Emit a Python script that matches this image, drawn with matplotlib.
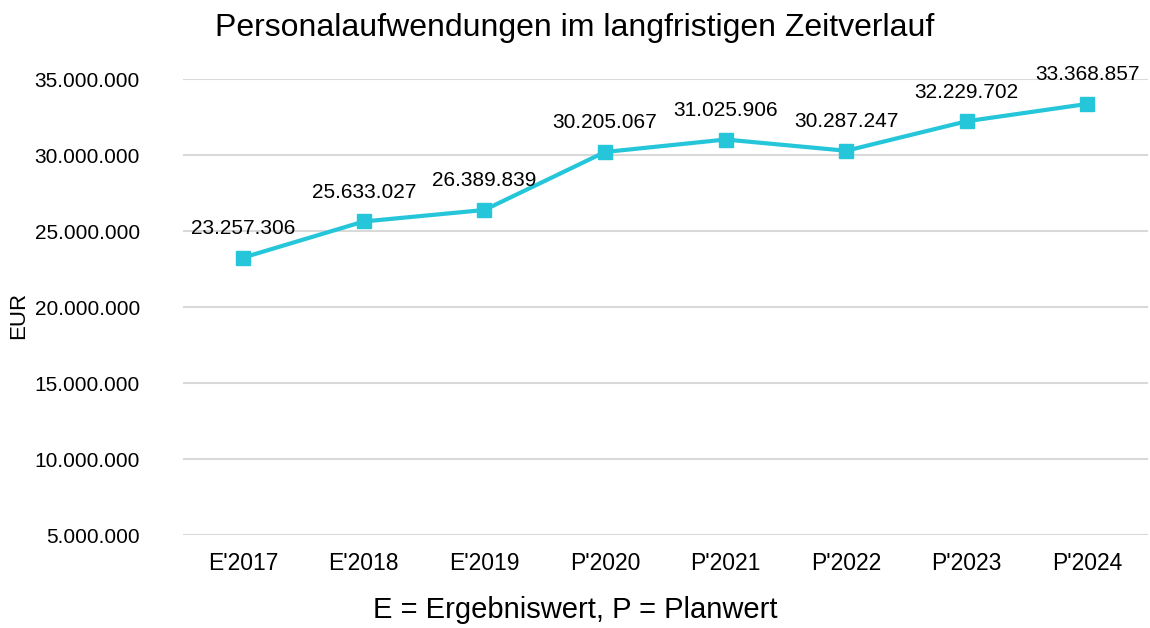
import matplotlib.pyplot as plt
from matplotlib.ticker import FuncFormatter

plt.rcParams['font.family'] = ['Liberation Sans', 'DejaVu Sans']

jahre = ["E'2017", "E'2018", "E'2019", "P'2020", "P'2021", "P'2022", "P'2023", "P'2024"]
werte = [23257306, 25633027, 26389839, 30205067, 31025906, 30287247, 32229702, 33368857]
y_ticks = [5000000, 10000000, 15000000, 20000000, 25000000, 30000000, 35000000]

def de_format(v, pos=None):
    return f"{int(v):,}".replace(",", ".")

fig = plt.figure(figsize=(11.5, 6.28), dpi=100)
ax = fig.add_axes([0.159, 0.148, 0.839, 0.726])

xs = range(len(jahre))
ax.plot(xs, werte, color="#25C6DA", lw=3, marker="s", markersize=9.5, zorder=3)
for x, v in zip(xs, werte):
    ax.annotate(de_format(v), (x, v), xytext=(0, 21), textcoords="offset points",
                ha="center", va="center", fontsize=15)

ax.set_xlim(-0.5, len(jahre) - 0.5)
ax.set_ylim(5000000, 35000000)
ax.set_yticks(y_ticks)
ax.yaxis.set_major_formatter(FuncFormatter(de_format))
ax.set_xticks(list(xs))
ax.set_xticklabels(jahre)
ax.tick_params(axis="y", length=0, labelsize=15, pad=31)
ax.tick_params(axis="x", length=0, labelsize=16.5, pad=12)
ax.grid(axis="y", color="#D9D9D9", lw=1.5)
ax.set_axisbelow(True)
for s in ax.spines.values():
    s.set_visible(False)

fig.text(0.016, 0.497, "EUR", rotation=90, ha="center", va="center", fontsize=16)
fig.text(0.5, 0.029, "E = Ergebniswert, P = Planwert", ha="center", va="center", fontsize=21)
fig.text(0.5, 0.955, "Personalaufwendungen im langfristigen Zeitverlauf",
         ha="center", va="center", fontsize=23)

fig.savefig("out.png", dpi=100)
